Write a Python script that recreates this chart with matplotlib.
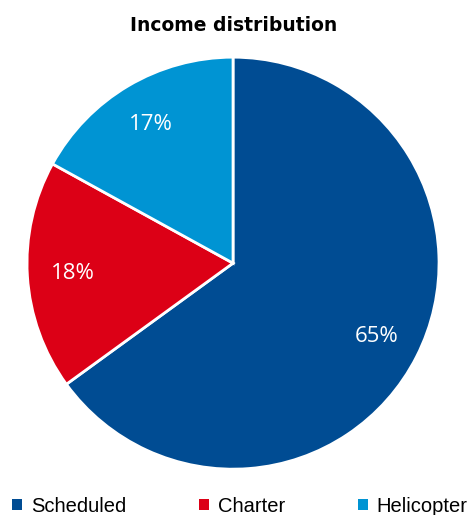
import matplotlib.pyplot as plt
from matplotlib.patches import Patch

# Income distribution data
labels = ["Scheduled", "Charter", "Helicopter"]
shares = [65, 18, 17]
colors = ["#004C93", "#DC0016", "#0094D3"]

fig = plt.figure(figsize=(4.7, 5.15), dpi=100)

# Pie axes placed to match the reference layout
ax = fig.add_axes([0.0575, 0.089, 0.8766, 0.800])
wedges, texts, autotexts = ax.pie(
    shares,
    colors=colors,
    startangle=90,
    counterclock=False,
    autopct="%d%%",
    pctdistance=0.78,
    wedgeprops=dict(edgecolor="white", linewidth=2),
    textprops=dict(color="white", fontsize=16, family="Open Sans"),
)
ax.set_xlim(-1.0, 1.0)
ax.set_ylim(-1.0, 1.0)
ax.set_aspect("equal")

fig.text(0.497, 0.951, "Income distribution", ha="center", va="center",
         fontsize=13.5, fontweight="bold", family="DejaVu Sans")

handles = [Patch(facecolor=c, edgecolor="none") for c in colors]
fig.legend(handles, labels, loc="center left", bbox_to_anchor=(0.025, 0.017),
           ncol=3, frameon=False, handlelength=0.5, handleheight=0.5,
           handletextpad=0.45, columnspacing=3.6, borderpad=0, borderaxespad=0,
           prop=dict(family="Liberation Sans", size=14.5))

plt.savefig("out.png", dpi=100)
